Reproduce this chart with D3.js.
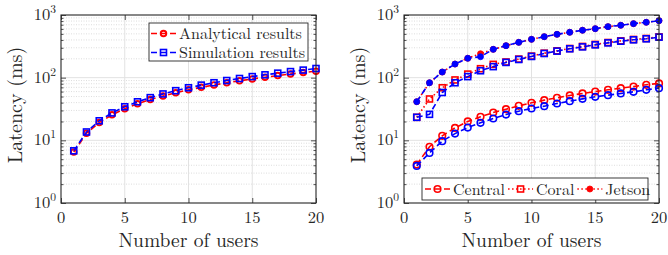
<!DOCTYPE html>
<html><head><meta charset="utf-8">
<script src="https://cdn.jsdelivr.net/npm/d3@7"></script>
<style>
html,body{margin:0;padding:0;background:#fff;}
svg{display:block;}
</style></head>
<body>
<svg id="chart" width="668" height="255"></svg>
<script>
// ---- data ----
const users = [1,2,3,4,5,6,7,8,9,10,11,12,13,14,15,16,17,18,19,20];
const xTicks = [0,5,10,15,20];
const yTicks = [1,10,100,1000];
const yTickExp = ["0","1","2","3"];

const analytical = [6.5,13,19.2,25.5,32,38.3,44.7,51,57.4,64,70,76.5,82.8,89,95.5,101.8,108,114.5,120.8,127];
const simulation = [6.8,13.6,20.5,27.4,34.3,41.2,48,55,62,69,76,83,90,97,104,111,118,125,132,140];

const centralAna = [4.1,7.9,11.8,15.8,20,23.7,27.8,31.4,35.5,39.7,43.8,47.7,52,56,60,64,68,72,77,81];
const centralSim = [3.9,6.3,9.7,12.8,16,19,22.3,25.8,29.2,32.2,35.1,38.7,42.2,45.9,49.5,52.6,56,59.5,64,68];
const coralAna = [23.3,45.7,69,92,114,139,163,178,198,221,246,268,292,315,339,364,387,407,422,448];
const coralSim = [23.3,26,58,83,104,129,150,175,195,218,243,265,289,310,334,359,382,402,417,443];
const jetsonAna = [41.4,83,123,165,204,241,283,324,366,409,451,492,530,571,605,652,686,728,765,812];
const jetsonSim = [41.4,83,123,165,204,216,283,324,366,409,451,492,530,571,605,652,686,728,765,812];

const leftLegend = ["Analytical results","Simulation results"];
const rightLegend = ["Central","Coral","Jetson"];
const xLabel = "Number of users";
const yLabel = "Latency (ms)";

// ---- drawing ----
const svg = d3.select("#chart");
const FONT = '"Latin Modern Roman"';
const RED = "#ff0000", BLUE = "#0000ff", AX = "#262626";
const DASH = "6,3.5", DOT = "1.5,2.5";

function txt(g) {
  return g.append("text").style("font-family", FONT).attr("fill", AX);
}

function marker(g, type, color, x, y) {
  if (type === "circle") {
    g.append("circle").attr("cx", x).attr("cy", y).attr("r", 3.3)
      .attr("fill", "none").attr("stroke", color).attr("stroke-width", 1.6);
  } else if (type === "smallcircle") {
    g.append("circle").attr("cx", x).attr("cy", y).attr("r", 2.8)
      .attr("fill", "none").attr("stroke", color).attr("stroke-width", 1.9);
  } else if (type === "square") {
    g.append("rect").attr("x", x - 3).attr("y", y - 3).attr("width", 6).attr("height", 6)
      .attr("fill", "none").attr("stroke", color).attr("stroke-width", 1.6);
  } else if (type === "dot") {
    g.append("circle").attr("cx", x).attr("cy", y).attr("r", 3)
      .attr("fill", color).attr("stroke", color).attr("stroke-width", 0.8);
  }
}

function panel(x0, x1, series, labelX) {
  const yTop = 15, yBot = 203;
  const x = d3.scaleLinear().domain([0, 20]).range([x0, x1]);
  const y = d3.scaleLog().domain([1, 1000]).range([yBot, yTop]);
  const g = svg.append("g");

  const minor = [];
  yTicks.slice(0, -1).forEach(d => { for (let k = 2; k <= 9; k++) minor.push(d * k); });

  // grid
  g.selectAll(".gmin").data(minor).enter().append("line")
    .attr("x1", x0).attr("x2", x1).attr("y1", d => y(d)).attr("y2", d => y(d))
    .attr("stroke", "#d4d4d4").attr("stroke-width", 0.8).attr("stroke-dasharray", "1,1.5");
  g.selectAll(".gmaj").data(yTicks.slice(1, -1)).enter().append("line")
    .attr("x1", x0).attr("x2", x1).attr("y1", d => y(d)).attr("y2", d => y(d))
    .attr("stroke", "#e2e2e2").attr("stroke-width", 1);
  g.selectAll(".gx").data(xTicks.slice(1, -1)).enter().append("line")
    .attr("x1", d => x(d)).attr("x2", d => x(d)).attr("y1", yTop).attr("y2", yBot)
    .attr("stroke", "#e2e2e2").attr("stroke-width", 1);

  // data
  series.forEach(s => {
    const line = d3.line().x((d, i) => x(users[i])).y(d => y(d));
    g.append("path").attr("d", line(s.values)).attr("fill", "none")
      .attr("stroke", s.color).attr("stroke-width", 1.6)
      .attr("stroke-dasharray", s.dash);
    const mg = g.append("g");
    s.values.forEach((v, i) => marker(mg, s.marker, s.color, x(users[i]), y(v)));
  });

  // axes ticks (inward) on all four sides
  const axL = d3.axisLeft(y).tickValues(yTicks).tickSize(-5).tickFormat("");
  const axLm = d3.axisLeft(y).tickValues(minor).tickSize(-2.5).tickFormat("");
  const axR = d3.axisRight(y).tickValues(yTicks).tickSize(-5).tickFormat("");
  const axRm = d3.axisRight(y).tickValues(minor).tickSize(-2.5).tickFormat("");
  const axB = d3.axisBottom(x).tickValues(xTicks).tickSize(-5).tickFormat("");
  const axT = d3.axisTop(x).tickValues(xTicks).tickSize(-5).tickFormat("");
  [[axL, `translate(${x0},0)`], [axLm, `translate(${x0},0)`], [axR, `translate(${x1},0)`],
   [axRm, `translate(${x1},0)`], [axB, `translate(0,${yBot})`], [axT, `translate(0,${yTop})`]]
    .forEach(([a, t]) => {
      const ag = g.append("g").attr("transform", t).call(a);
      ag.select(".domain").remove();
      ag.selectAll("line").attr("stroke", AX).attr("stroke-width", 0.8);
    });
  g.append("rect").attr("x", x0).attr("y", yTop).attr("width", x1 - x0).attr("height", yBot - yTop)
    .attr("fill", "none").attr("stroke", AX).attr("stroke-width", 1.1);

  // tick labels
  xTicks.forEach(d => {
    txt(g).attr("x", x(d)).attr("y", 222.5).attr("text-anchor", "middle")
      .attr("font-size", 16.5).text(d);
  });
  yTicks.forEach((d, i) => {
    const t = txt(g).attr("x", x0 - 5).attr("y", y(d) + 5)
      .attr("text-anchor", "end").attr("font-size", 16.5);
    t.append("tspan").text("10");
    t.append("tspan").attr("dy", -7).attr("font-size", 11.5).text(yTickExp[i]);
  });

  // axis labels
  txt(g).attr("x", (x0 + x1) / 2).attr("y", 246.5).attr("text-anchor", "middle")
    .attr("font-size", 19.5).text(xLabel);
  txt(g).attr("transform", `translate(${labelX},${(yTop + yBot) / 2 - 4}) rotate(-90)`)
    .attr("text-anchor", "middle").attr("font-size", 20).text(yLabel);
  return g;
}

// Left panel
const gl = panel(61, 316, [
  {values: analytical, color: RED, dash: DASH, marker: "smallcircle"},
  {values: simulation, color: BLUE, dash: DASH, marker: "square"}
], 22);

// Left legend
(function () {
  const lg = gl.append("g");
  lg.append("rect").attr("x", 149).attr("y", 23).attr("width", 159).attr("height", 38)
    .attr("fill", "#fff").attr("stroke", AX).attr("stroke-width", 0.9);
  const items = [
    {label: leftLegend[0], color: RED, marker: "smallcircle", cy: 33.5},
    {label: leftLegend[1], color: BLUE, marker: "square", cy: 52.5}
  ];
  items.forEach(it => {
    lg.append("line").attr("x1", 151).attr("x2", 176).attr("y1", it.cy).attr("y2", it.cy)
      .attr("stroke", it.color).attr("stroke-width", 1.6).attr("stroke-dasharray", DASH);
    marker(lg, it.marker, it.color, 163.5, it.cy);
    txt(lg).attr("x", 179).attr("y", it.cy + 5.5).attr("font-size", 16).text(it.label);
  });
})();

// Right panel
const gr = panel(404, 659, [
  {values: centralAna, color: RED, dash: DASH, marker: "circle"},
  {values: coralAna, color: RED, dash: DOT, marker: "square"},
  {values: jetsonAna, color: RED, dash: DOT, marker: "dot"},
  {values: centralSim, color: BLUE, dash: DASH, marker: "circle"},
  {values: coralSim, color: BLUE, dash: DASH, marker: "square"},
  {values: jetsonSim, color: BLUE, dash: DASH, marker: "dot"}
], 365);

// Right legend
(function () {
  const lg = gr.append("g");
  lg.append("rect").attr("x", 422).attr("y", 178).attr("width", 226).attr("height", 22)
    .attr("fill", "#fff").attr("stroke", AX).attr("stroke-width", 0.9);
  const items = [
    {label: rightLegend[0], dash: DASH, marker: "circle"},
    {label: rightLegend[1], dash: DOT, marker: "square"},
    {label: rightLegend[2], dash: DOT, marker: "dot"}
  ];
  let cx = 425;
  const cy = 189;
  items.forEach(it => {
    lg.append("line").attr("x1", cx).attr("x2", cx + 25).attr("y1", cy).attr("y2", cy)
      .attr("stroke", RED).attr("stroke-width", 1.6).attr("stroke-dasharray", it.dash);
    marker(lg, it.marker, RED, cx + 12.5, cy);
    const t = txt(lg).attr("x", cx + 28).attr("y", cy + 5.5).attr("font-size", 16).text(it.label);
    cx = cx + 28 + t.node().getComputedTextLength() + 3;
  });
})();
</script>
</body></html>
